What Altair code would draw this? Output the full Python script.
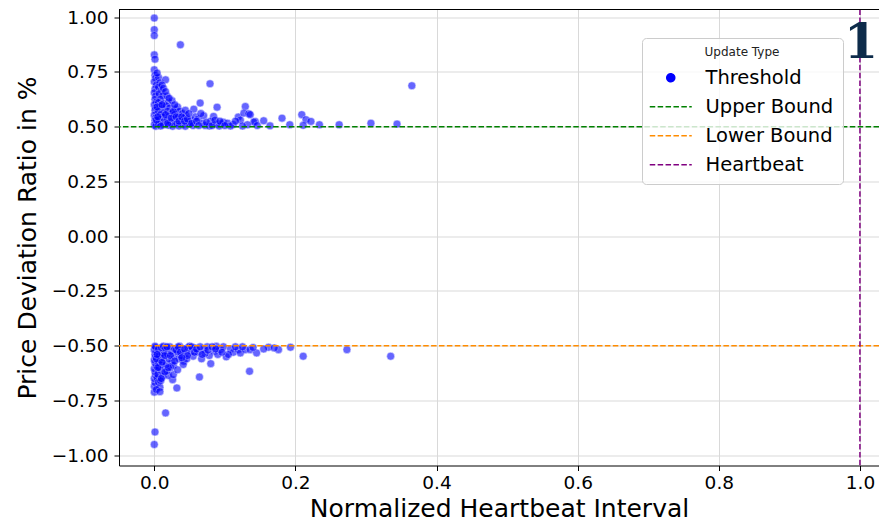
import altair as alt
import pandas as pd
import numpy as np

# ---------------- data ----------------
upper_x = [0.000, 0.000, 0.000, 0.000, 0.001, 0.000, 0.001, 0.002, 0.000, 0.003, 0.001, 0.000, 0.002, 0.001, 0.003,
           0.000, 0.002, 0.001, 0.004, 0.000, 0.002, 0.001, 0.003, 0.000, 0.002,
           0.006, 0.008, 0.006, 0.010, 0.007, 0.012, 0.009, 0.006, 0.013, 0.008, 0.011, 0.006, 0.014, 0.009, 0.012,
           0.007, 0.015, 0.010, 0.006, 0.013, 0.009,
           0.016, 0.018, 0.020, 0.017, 0.022, 0.019, 0.025, 0.024, 0.021, 0.027, 0.018, 0.023, 0.028, 0.020, 0.026,
           0.030, 0.029,
           0.037, 0.033, 0.036, 0.040, 0.034, 0.042, 0.038, 0.045, 0.032, 0.041, 0.048, 0.035, 0.044, 0.052, 0.056,
           0.050, 0.055, 0.058,
           0.065, 0.062, 0.068, 0.072, 0.079, 0.089, 0.084, 0.080, 0.088, 0.095, 0.078, 0.092, 0.098, 0.070,
           0.104, 0.112, 0.119, 0.129, 0.127, 0.134, 0.136, 0.143, 0.141, 0.132, 0.122, 0.108, 0.115, 0.125, 0.146,
           0.155, 0.164, 0.181, 0.192, 0.209, 0.215, 0.222, 0.211, 0.234, 0.262, 0.307, 0.344, 0.365,
           0.003, 0.005, 0.004, 0.011, 0.016, 0.019, 0.024, 0.027, 0.031, 0.035, 0.039, 0.043, 0.047, 0.053, 0.060,
           0.063, 0.066, 0.074, 0.082, 0.086, 0.093, 0.100, 0.011, 0.004, 0.013, 0.016, 0.021, 0.029, 0.044, 0.049]
upper_y = [0.996, 0.943, 0.916, 0.828, 0.808, 0.760, 0.735, 0.722, 0.705, 0.690, 0.672, 0.655, 0.640, 0.625, 0.612,
           0.600, 0.588, 0.575, 0.565, 0.552, 0.540, 0.528, 0.518, 0.508, 0.502,
           0.725, 0.700, 0.680, 0.665, 0.650, 0.640, 0.625, 0.610, 0.605, 0.595, 0.582, 0.570, 0.565, 0.555, 0.545,
           0.535, 0.530, 0.520, 0.512, 0.508, 0.503,
           0.714, 0.640, 0.612, 0.595, 0.585, 0.570, 0.619, 0.560, 0.548, 0.540, 0.530, 0.522, 0.515, 0.506, 0.502,
           0.580, 0.555,
           0.874, 0.590, 0.570, 0.560, 0.545, 0.538, 0.528, 0.550, 0.515, 0.510, 0.520, 0.503, 0.502, 0.530, 0.580,
           0.512, 0.505, 0.545,
           0.608, 0.535, 0.515, 0.505, 0.696, 0.589, 0.547, 0.525, 0.512, 0.513, 0.503, 0.503, 0.520, 0.550,
           0.516, 0.510, 0.544, 0.592, 0.562, 0.559, 0.555, 0.524, 0.521, 0.509, 0.530, 0.503, 0.525, 0.503, 0.505,
           0.527, 0.504, 0.539, 0.509, 0.555, 0.532, 0.524, 0.506, 0.509, 0.509, 0.516, 0.512, 0.687,
           0.530, 0.545, 0.590, 0.600, 0.555, 0.515, 0.540, 0.570, 0.545, 0.525, 0.545, 0.525, 0.535, 0.515, 0.525,
           0.505, 0.560, 0.520, 0.505, 0.530, 0.525, 0.505, 0.690, 0.745, 0.675, 0.660, 0.630, 0.600, 0.575, 0.560]

lower_x = [0.000, 0.001, 0.000, 0.000, 0.001, 0.000, 0.002, 0.001, 0.000, 0.003, 0.001, 0.000, 0.002, 0.001, 0.003,
           0.000, 0.002, 0.001,
           0.016, 0.004, 0.006, 0.008, 0.005, 0.010, 0.007, 0.012, 0.006, 0.009, 0.013, 0.007, 0.011, 0.014, 0.006,
           0.010, 0.013, 0.012, 0.009,
           0.026, 0.020, 0.027, 0.018, 0.023, 0.017, 0.025, 0.021, 0.028, 0.019, 0.024, 0.016, 0.022, 0.029, 0.032,
           0.042, 0.035, 0.038, 0.045, 0.033, 0.040, 0.048, 0.036, 0.052, 0.055, 0.058, 0.041, 0.050, 0.046,
           0.064, 0.067, 0.080, 0.062, 0.070, 0.075, 0.085, 0.090, 0.094, 0.078, 0.098, 0.072, 0.088,
           0.102, 0.108, 0.112, 0.119, 0.122, 0.129, 0.136, 0.135, 0.145, 0.115, 0.125, 0.140, 0.105,
           0.162, 0.176, 0.193, 0.211, 0.273, 0.335, 0.155, 0.170,
           0.003, 0.005, 0.004, 0.011, 0.015, 0.018, 0.023, 0.027, 0.031, 0.034, 0.037, 0.043, 0.047, 0.053, 0.057,
           0.060, 0.065, 0.068, 0.076, 0.082, 0.087, 0.096, 0.015, 0.010, 0.020, 0.029, 0.039, 0.003, 0.008, 0.033]
lower_y = [-0.951, -0.894, -0.712, -0.685, -0.668, -0.650, -0.635, -0.620, -0.605, -0.592, -0.578, -0.565, -0.552,
           -0.540, -0.528, -0.518, -0.508, -0.502,
           -0.807, -0.647, -0.667, -0.690, -0.630, -0.615, -0.600, -0.590, -0.578, -0.565, -0.555, -0.545, -0.535,
           -0.525, -0.515, -0.508, -0.502, -0.640, -0.660,
           -0.655, -0.636, -0.632, -0.615, -0.600, -0.585, -0.575, -0.560, -0.548, -0.538, -0.525, -0.512, -0.505,
           -0.515, -0.693,
           -0.571, -0.560, -0.545, -0.535, -0.528, -0.515, -0.508, -0.503, -0.525, -0.548, -0.510, -0.586, -0.502,
           -0.560,
           -0.643, -0.560, -0.582, -0.530, -0.515, -0.505, -0.525, -0.540, -0.518, -0.545, -0.505, -0.535, -0.503,
           -0.551, -0.515, -0.530, -0.518, -0.533, -0.518, -0.518, -0.617, -0.533, -0.505, -0.505, -0.508, -0.540,
           -0.507, -0.518, -0.507, -0.548, -0.518, -0.548, -0.515, -0.510,
           -0.560, -0.600, -0.540, -0.575, -0.545, -0.505, -0.545, -0.590, -0.520, -0.505, -0.530, -0.515, -0.545,
           -0.505, -0.530, -0.515, -0.505, -0.540, -0.520, -0.505, -0.515, -0.530, -0.620, -0.650, -0.600, -0.570,
           -0.555, -0.700, -0.710, -0.610]

series_names = ["Threshold", "Upper Bound", "Lower Bound", "Heartbeat"]
series_colors = ["#0000ff", "#008000", "#ff8c00", "#800080"]
upper_bound = 0.5
lower_bound = -0.5
heartbeat = 1.0
x_ticks = [0.0, 0.2, 0.4, 0.6, 0.8, 1.0]
y_ticks = [-1.0, -0.75, -0.5, -0.25, 0.0, 0.25, 0.5, 0.75, 1.0]
panel_label = "1"

# ---------------- layout ----------------
W, H = 760, 456
x_dom = [-0.05, 1.027]
y_dom = [-1.047, 1.035]
FONT = "DejaVu Sans"

pts = pd.DataFrame({
    "x": upper_x + lower_x,
    "y": upper_y + lower_y,
    "Update Type": "Threshold",
})

xs = alt.Scale(domain=x_dom, nice=False, zero=False)
ys = alt.Scale(domain=y_dom, nice=False, zero=False)

x_axis = alt.Axis(values=x_ticks, format=".1f", title="Normalized Heartbeat Interval",
                  grid=True, tickSize=5, labelPadding=3, titlePadding=4)
y_axis = alt.Axis(values=y_ticks, format=".2f", title="Price Deviation Ratio in %",
                  grid=True, tickSize=5, labelPadding=6, titlePadding=11)

points = alt.Chart(pts).mark_circle(
    size=64, color="#0000ff", opacity=0.6, stroke="white", strokeWidth=0.5
).encode(
    x=alt.X("x:Q", scale=xs, axis=x_axis),
    y=alt.Y("y:Q", scale=ys, axis=y_axis),
)

hl = pd.DataFrame({"y": [upper_bound, lower_bound], "c": series_colors[1:3]})
hrules = alt.Chart(hl).mark_rule(strokeDash=[5.5, 2.4], strokeWidth=1.5).encode(
    y=alt.Y("y:Q", scale=ys),
    color=alt.Color("c:N", scale=None),
)
vl = pd.DataFrame({"x": [heartbeat]})
vrule = alt.Chart(vl).mark_rule(strokeDash=[5.5, 2.4], strokeWidth=1.5, color=series_colors[3]).encode(
    x=alt.X("x:Q", scale=xs),
)

# legend-only layer (no visible marks)
leg_df = pd.DataFrame({"Update Type": series_names, "x": [np.nan] * 4, "y": [np.nan] * 4})
line_path = "M-5.25,0L5.25,0"
leg_props = dict(
    title="Update Type", orient="none", legendX=523, legendY=28.5,
    titleFont=FONT, titleFontSize=12, titleFontWeight="normal", titleColor="#222222",
    titleAnchor="middle", titlePadding=9,
    labelFont=FONT, labelFontSize=19.5, labelColor="black", labelOffset=25,
    symbolSize=64, symbolStrokeWidth=1.5, symbolOpacity=1, symbolOffset=10,
    fillColor="rgba(255,255,255,0.8)", strokeColor="#cccccc", cornerRadius=4,
    padding=9, rowPadding=8,
)
dom = series_names
legend_layer = alt.Chart(leg_df).mark_point(filled=True).encode(
    x=alt.X("x:Q", scale=xs),
    y=alt.Y("y:Q", scale=ys),
    fill=alt.Fill("Update Type:N", scale=alt.Scale(domain=dom, range=series_colors), legend=alt.Legend(**leg_props)),
    stroke=alt.Stroke("Update Type:N", scale=alt.Scale(domain=dom, range=series_colors), legend=alt.Legend(**leg_props)),
    shape=alt.Shape("Update Type:N", scale=alt.Scale(domain=dom, range=["circle", line_path, line_path, line_path]),
                    legend=alt.Legend(**leg_props)),
    strokeDash=alt.StrokeDash("Update Type:N",
                              scale=alt.Scale(domain=dom, range=[[1, 0], [5.5, 2.4], [5.5, 2.4], [5.5, 2.4]]),
                              legend=alt.Legend(**leg_props)),
)

top_spine = alt.Chart(pd.DataFrame({"k": [0]})).mark_rule(color="black", strokeWidth=1).encode(
    x=alt.value(0), x2=alt.value(W), y=alt.value(0)
)

label = alt.Chart(pd.DataFrame({"t": [panel_label]})).mark_text(
    font="DejaVu Serif", fontWeight="bold", fontSize=49, color="#0d2b4a",
    align="center", baseline="alphabetic"
).encode(text="t:N", x=alt.value(742), y=alt.value(48.5))

chart = alt.layer(points, hrules, vrule, legend_layer, top_spine, label).properties(
    width=W, height=H,
    autosize=alt.AutoSizeParams(type="none"),
    padding={"left": 111, "top": 1.5, "right": 0, "bottom": 57.5},
).configure_view(stroke=None).configure_axis(
    labelFont=FONT, labelFontSize=18.5, labelColor="black",
    titleFont=FONT, titleFontSize=25, titleFontWeight="normal", titleColor="black",
    domainColor="black", domainWidth=1, tickColor="black", tickWidth=1,
    gridColor="#d9d9d9", gridWidth=1,
)

chart.save("out.html", embed_options={"renderer": "svg", "actions": False})
